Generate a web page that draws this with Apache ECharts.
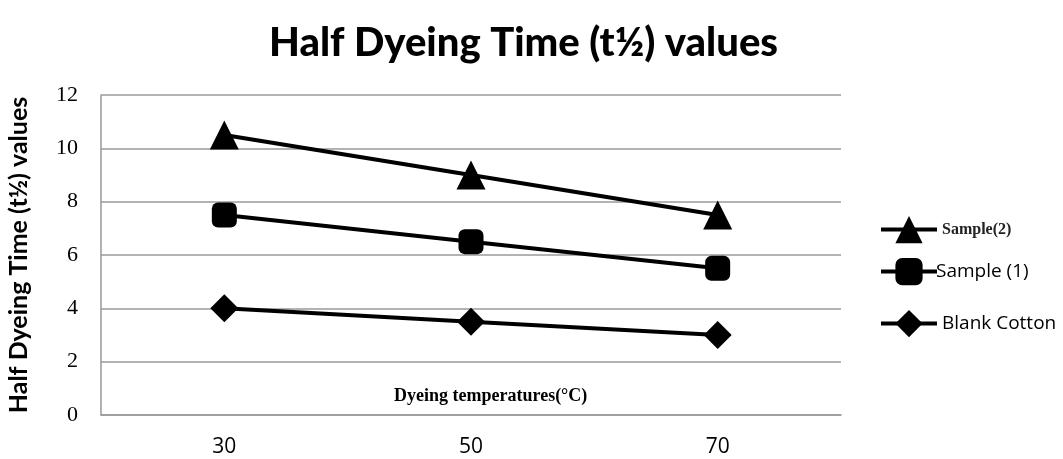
<!DOCTYPE html>
<html>
<head>
<meta charset="utf-8">
<script src="https://cdn.jsdelivr.net/npm/echarts@6/dist/echarts.min.js"></script>
<style>
html,body{margin:0;padding:0;background:#fff;}
#chart{width:1063px;height:459px;}
</style>
</head>
<body>
<div id="chart"></div>
<script>
const categories = ['30', '50', '70'];
const sample2 = [10.5, 9, 7.5];
const sample1 = [7.5, 6.5, 5.5];
const blankCotton = [4, 3.5, 3];
const seriesNames = ['Sample(2)', 'Sample (1)', 'Blank Cotton'];
const titleText = 'Half Dyeing Time (t\u00BD) values';
const yAxisTitle = 'Half Dyeing Time (t\u00BD) values';
const xAxisTitle = 'Dyeing temperatures(\u00B0C)';

const chart = echarts.init(document.getElementById('chart'), null, {renderer: 'canvas'});
const lineStyle = {color: '#000', width: 4};
function mk(name, data, symbol, size) {
  return {
    name: name, type: 'line', data: data, symbol: symbol, symbolSize: size,
    lineStyle: lineStyle, itemStyle: {color: '#000'}, z: 3, animation: false
  };
}
const legendCommon = {orient: 'vertical', left: 874, itemWidth: 56, itemHeight: 34, itemGap: 4,
  lineStyle: {width: 4, color: '#000'}};
chart.setOption({
  backgroundColor: '#fff',
  animation: false,
  title: [
    {text: titleText, left: 264, top: 18,
     textStyle: {fontFamily: 'Lato', fontWeight: 900, fontSize: 40, color: '#000'}},
    {text: xAxisTitle, left: 389, top: 382,
     textStyle: {fontFamily: 'Liberation Serif', fontWeight: 'bold', fontSize: 18, color: '#000'}}
  ],
  grid: {left: 101, right: 222, top: 95, bottom: 44, outerBoundsMode: 'none', containLabel: false},
  legend: [
    Object.assign({data: [seriesNames[0]], top: 211,
     textStyle: {fontFamily: 'Liberation Serif', fontWeight: 'bold', fontSize: 16, color: '#222'}}, legendCommon),
    Object.assign({data: [seriesNames[1]], top: 253,
     textStyle: {fontFamily: 'Open Sans', fontSize: 19, color: '#000', padding: [0, 0, 0, -6]}}, legendCommon),
    Object.assign({data: [seriesNames[2]], top: 305,
     textStyle: {fontFamily: 'Open Sans', fontSize: 19, color: '#000'}}, legendCommon)
  ],
  xAxis: {
    type: 'category', data: categories, boundaryGap: true,
    axisLine: {show: true, lineStyle: {color: '#999', width: 1.5}},
    axisTick: {show: false},
    axisLabel: {fontFamily: 'Open Sans', fontSize: 21, color: '#000', margin: 22},
    splitLine: {show: false}
  },
  yAxis: {
    type: 'value', min: 0, max: 12, interval: 2,
    name: yAxisTitle, nameLocation: 'middle', nameGap: 70,
    nameTextStyle: {fontFamily: 'Lato', fontWeight: 'bold', fontSize: 25, color: '#000'},
    axisLine: {show: true, lineStyle: {color: '#999', width: 1.5}},
    axisTick: {show: false},
    axisLabel: {fontFamily: 'Liberation Serif', fontSize: 22, color: '#000', margin: 23},
    splitLine: {show: true, lineStyle: {color: '#9a9a9a', width: 1.5}}
  },
  series: [
    mk(seriesNames[0], sample2, 'triangle', 29),
    mk(seriesNames[1], sample1, 'roundRect', 25),
    mk(seriesNames[2], blankCotton, 'diamond', 28)
  ]
});
</script>
</body>
</html>
